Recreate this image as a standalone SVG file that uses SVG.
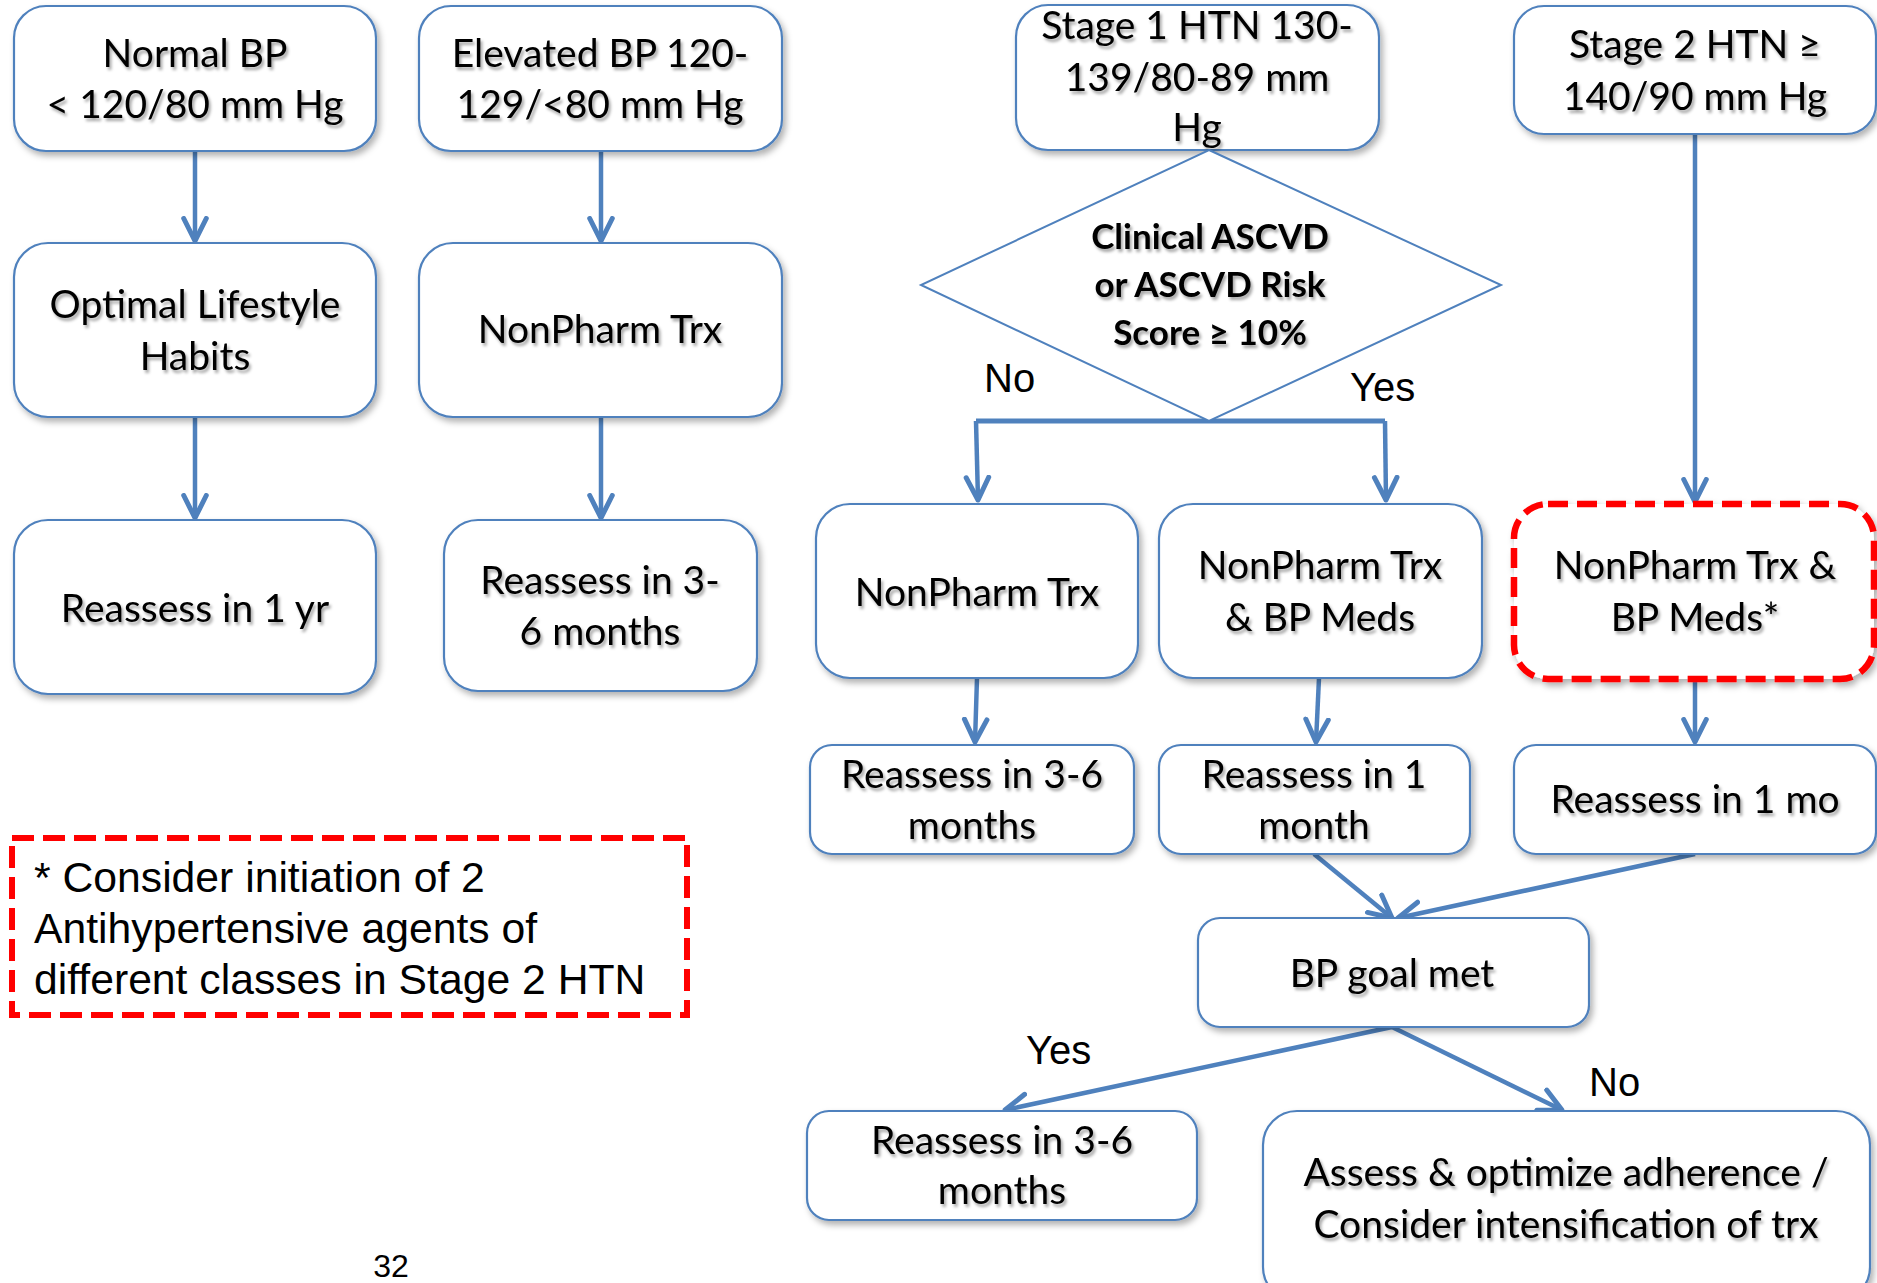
<svg xmlns="http://www.w3.org/2000/svg" width="1877" height="1283" viewBox="0 0 1877 1283">
<defs>
<filter id="sh" x="-10%" y="-10%" width="130%" height="130%"><feDropShadow dx="3" dy="4" stdDeviation="3" flood-color="#000" flood-opacity="0.3"/></filter>
<filter id="tsh" x="-5%" y="-20%" width="115%" height="150%"><feDropShadow dx="2" dy="3" stdDeviation="1.6" flood-color="#000" flood-opacity="0.35"/></filter>
<marker id="ah" markerUnits="userSpaceOnUse" markerWidth="30" markerHeight="30" refX="20" refY="11" orient="auto" viewBox="0 0 24 22">
<path d="M2,2 L20,11 L2,20" fill="none" stroke="#4F81BD" stroke-width="4" stroke-linecap="round" stroke-linejoin="round"/>
</marker>
<style>
.box{fill:#fff;stroke:#4F81BD;stroke-width:2.2;filter:url(#sh)}
.red{fill:#fff;stroke:#FF0000;stroke-width:6.5;stroke-dasharray:20 9;filter:url(#sh)}
.t{font-family:Lato,"Open Sans",sans-serif;font-size:39px;fill:#000;text-anchor:middle;filter:url(#tsh)}
.b{font-family:Lato,"Open Sans",sans-serif;font-size:35px;font-weight:bold;fill:#000;text-anchor:middle;filter:url(#tsh)}
.a{font-family:"Liberation Sans",Arial,sans-serif;fill:#000}
.c{fill:none;stroke:#4F81BD;stroke-width:4.5;marker-end:url(#ah)}
.cl{fill:none;stroke:#4F81BD;stroke-width:5}
</style>
</defs>
<g id="connectors">
<path class="c" d="M195,151 L195,241"/>
<path class="c" d="M601,151 L601,241"/>
<path class="c" d="M195,417 L195,518"/>
<path class="c" d="M601,417 L601,518"/>
<path class="c" d="M1695,134 L1695,502"/>
<path class="cl" d="M976,421 L1385,421"/>
<path class="c" d="M976,421 L978,500"/>
<path class="c" d="M1385,421 L1386,500"/>
<path class="c" d="M977,678 L975,742"/>
<path class="c" d="M1319,678 L1316,742"/>
<path class="c" d="M1695,679 L1695,742"/>
<path class="c" d="M1314,854 L1392,918"/>
<path class="c" d="M1695,854 L1398,918"/>
<path class="c" d="M1392,1027 L1005,1110"/>
<path class="c" d="M1392,1027 L1562,1110"/>
</g>
<g id="normal"><rect class="box" x="14" y="6" width="362" height="145" rx="32"/><text class="t" x="195" y="67">Normal BP</text><text class="t" x="195" y="118">&lt; 120/80 mm Hg</text></g>
<g id="elevated"><rect class="box" x="419" y="6" width="363" height="145" rx="32"/><text class="t" x="600" y="67">Elevated BP 120-</text><text class="t" x="600" y="118">129/&lt;80 mm Hg</text></g>
<g id="stage1"><rect class="box" x="1016" y="5" width="363" height="145" rx="32"/><text class="t" x="1197" y="39">Stage 1 HTN 130-</text><text class="t" x="1197" y="91">139/80-89 mm</text><text class="t" x="1197" y="141">Hg</text></g>
<g id="stage2"><rect class="box" x="1514" y="6" width="362" height="128" rx="30"/><text class="t" x="1695" y="58">Stage 2 HTN ≥</text><text class="t" x="1695" y="110">140/90 mm Hg</text></g>
<g id="optimal"><rect class="box" x="14" y="243" width="362" height="174" rx="34"/><text class="t" x="195" y="318">Optimal Lifestyle</text><text class="t" x="195" y="370">Habits</text></g>
<g id="nonpharm1"><rect class="box" x="419" y="243" width="363" height="174" rx="34"/><text class="t" x="600" y="343">NonPharm Trx</text></g>
<g id="reassess1yr"><rect class="box" x="14" y="520" width="362" height="174" rx="34"/><text class="t" x="195" y="622">Reassess in 1 yr</text></g>
<g id="reassess36a"><rect class="box" x="444" y="520" width="313" height="171" rx="34"/><text class="t" x="600" y="594">Reassess in 3-</text><text class="t" x="600" y="645">6 months</text></g>
<g id="diamond"><path d="M1209,150 L1501,285 L1209,421 L921,285 Z" fill="#fff" stroke="#4F81BD" stroke-width="2"/><text class="b" x="1210" y="249">Clinical ASCVD</text><text class="b" x="1210" y="297">or ASCVD Risk</text><text class="b" x="1210" y="345">Score ≥ 10%</text></g>
<g id="lbl-no1"><text class="a" x="984" y="392" font-size="40">No</text></g>
<g id="lbl-yes1"><text class="a" x="1350" y="401" font-size="40">Yes</text></g>
<g id="nonpharm2"><rect class="box" x="816" y="504" width="322" height="174" rx="34"/><text class="t" x="977" y="606">NonPharm Trx</text></g>
<g id="nonpharmmeds"><rect class="box" x="1159" y="504" width="323" height="174" rx="34"/><text class="t" x="1320" y="579">NonPharm Trx</text><text class="t" x="1320" y="631">&amp; BP Meds</text></g>
<g id="nonpharmmeds2"><rect class="red" x="1514" y="504" width="360" height="175" rx="34"/><text class="t" x="1695" y="579">NonPharm Trx &amp;</text><text class="t" x="1695" y="631">BP Meds*</text></g>
<g id="reassess36b"><rect class="box" x="810" y="745" width="324" height="109" rx="22"/><text class="t" x="972" y="788">Reassess in 3-6</text><text class="t" x="972" y="839">months</text></g>
<g id="reassess1m"><rect class="box" x="1159" y="745" width="311" height="109" rx="22"/><text class="t" x="1314" y="788">Reassess in 1</text><text class="t" x="1314" y="839">month</text></g>
<g id="reassess1mo"><rect class="box" x="1514" y="745" width="362" height="109" rx="22"/><text class="t" x="1695" y="813">Reassess in 1 mo</text></g>
<g id="goal"><rect class="box" x="1198" y="918" width="391" height="109" rx="22"/><text class="t" x="1392" y="987">BP goal met</text></g>
<g id="lbl-yes2"><text class="a" x="1026" y="1064" font-size="40">Yes</text></g>
<g id="lbl-no2"><text class="a" x="1589" y="1096" font-size="40">No</text></g>
<g id="reassess36c"><rect class="box" x="807" y="1111" width="390" height="109" rx="22"/><text class="t" x="1002" y="1154">Reassess in 3-6</text><text class="t" x="1002" y="1204">months</text></g>
<g id="assess"><rect class="box" x="1263" y="1111" width="607" height="190" rx="34"/><text class="t" x="1566" y="1186">Assess &amp; optimize adherence /</text><text class="t" x="1566" y="1238">Consider intensification of trx</text></g>
<g id="note"><rect x="12" y="838" width="675" height="177" fill="none" stroke="#FF0000" stroke-width="6" stroke-dasharray="22 9"/><text class="a" x="34" y="892" font-size="42.7">* Consider initiation of 2</text><text class="a" x="34" y="943" font-size="42.7">Antihypertensive agents of</text><text class="a" x="34" y="994" font-size="42.7">different classes in Stage 2 HTN</text></g>
<g id="page"><text class="a" x="391" y="1277" font-size="32" text-anchor="middle">32</text></g>
</svg>
